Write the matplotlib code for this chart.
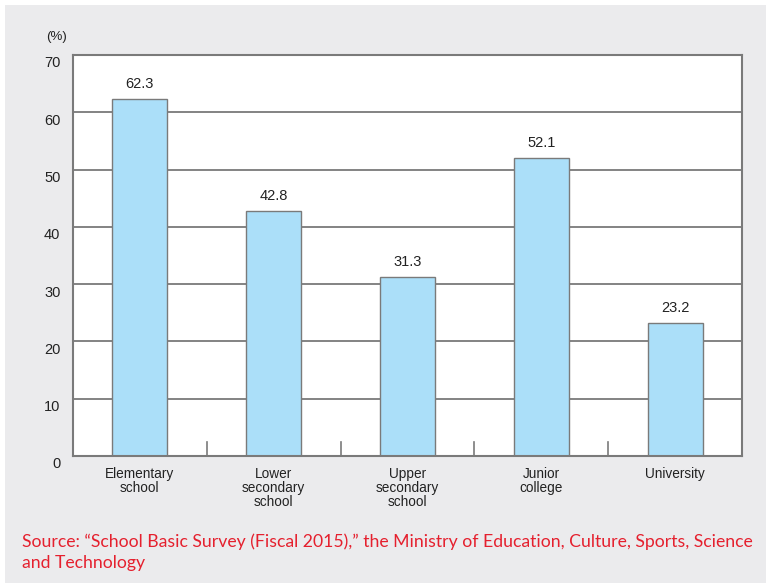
import matplotlib.pyplot as plt
import matplotlib.transforms as mtransforms

categories = ["Elementary\nschool", "Lower\nsecondary\nschool", "Upper\nsecondary\nschool",
              "Junior\ncollege", "University"]
values = [62.3, 42.8, 31.3, 52.1, 23.2]
yticks = [0, 10, 20, 30, 40, 50, 60, 70]
source = ("Source: \u201cSchool Basic Survey (Fiscal 2015),\u201d the Ministry of Education, "
          "Culture, Sports, Science\nand Technology")

plt.rcParams["font.family"] = ["Liberation Sans", "DejaVu Sans"]

W, H = 766, 585
fig = plt.figure(figsize=(W / 100, H / 100), dpi=100)
fig.patch.set_facecolor("white")

# gray panel behind everything
bg = fig.add_axes([5 / W, 2 / H, 1 - 5 / W, 1 - 7 / H])
bg.set_facecolor("#ebebed")
bg.set_xticks([])
bg.set_yticks([])
for s in bg.spines.values():
    s.set_visible(False)

left, right, top, bottom = 73, 742, 55, 456
ax = fig.add_axes([left / W, 1 - bottom / H, (right - left) / W, (bottom - top) / H])
ax.set_facecolor("white")
ax.set_xlim(-0.5, len(values) - 0.5)
ax.set_ylim(0, 70)

edge = "#7a7a7a"
for y in yticks[1:-1]:
    ax.axhline(y, color=edge, lw=1.3, zorder=1)

x = range(len(values))
ax.bar(x, values, width=0.41, color="#abdff9", edgecolor=edge, linewidth=1.0, zorder=2)
for xi, v in zip(x, values):
    ax.annotate(f"{v}", (xi, v), xytext=(0, 5.5), textcoords="offset points",
                ha="center", va="bottom", fontsize=10.5, color="#222222")

# separator ticks between categories
for i in range(1, len(values)):
    ax.plot([i - 0.5, i - 0.5], [0, 2.4], color=edge, lw=1.2, zorder=3)

for s in ax.spines.values():
    s.set_color(edge)
    s.set_linewidth(1.5)

ax.set_yticks(yticks)
ax.set_yticklabels([str(t) for t in yticks], fontsize=10.5, color="#222222")
ax.tick_params(axis="y", length=0, pad=9)
offset = mtransforms.ScaledTranslation(0, -5 / 72, fig.dpi_scale_trans)
for lab in ax.get_yticklabels():
    lab.set_transform(lab.get_transform() + offset)

ax.set_xticks(list(x))
ax.set_xticklabels(categories, fontsize=9.8, color="#222222", linespacing=1.0)
ax.tick_params(axis="x", length=0, pad=8)

fig.text(46 / W, 1 - 37 / H, "(%)", fontsize=9.5, color="#222222", va="center")

fig.text(22 / W, 1 - 552 / H, source, fontsize=12.7, color="#e5202e",
         family=["Lato", "DejaVu Sans"], va="center", linespacing=1.4)

fig.savefig("out.png", dpi=100)
